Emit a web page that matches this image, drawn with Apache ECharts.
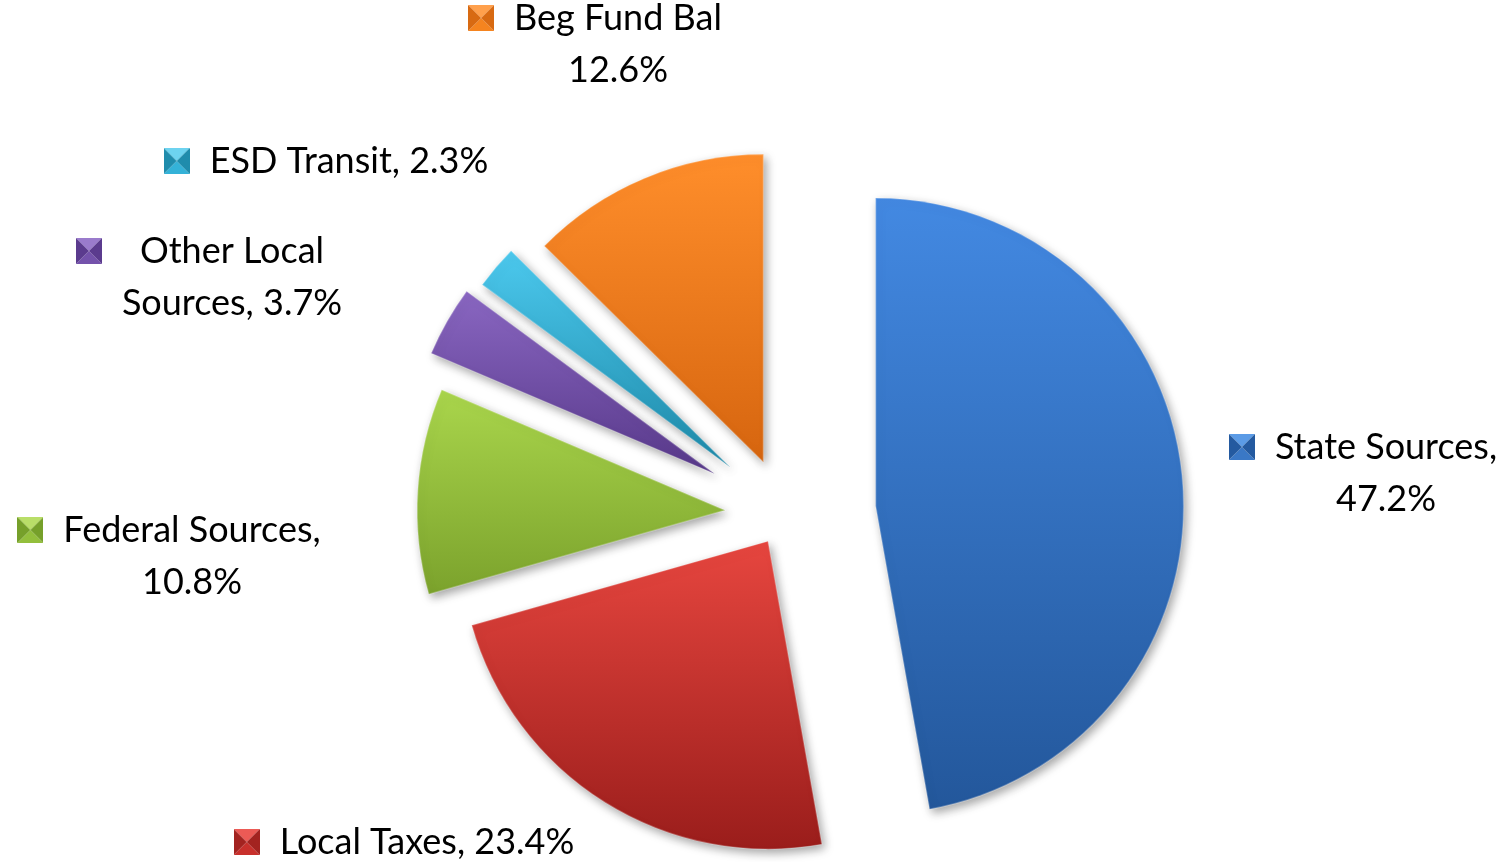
<!DOCTYPE html>
<html>
<head>
<meta charset="utf-8">
<script src="https://cdn.jsdelivr.net/npm/echarts@6/dist/echarts.min.js"></script>
<style>
  html, body { margin: 0; padding: 0; background: #ffffff; }
  #chart { width: 1509px; height: 862px; }
</style>
</head>
<body>
<div id="chart"></div>
<script>
// Revenue sources, share of total (%)
const categories = ['State Sources', 'Local Taxes', 'Federal Sources', 'Other Local Sources', 'ESD Transit', 'Beg Fund Bal'];
const shares = [47.2, 23.4, 10.8, 3.7, 2.3, 12.6];

// How each label's text is broken into lines
const labelNames = ['State Sources', 'Local Taxes', 'Federal Sources', 'Other Local\nSources', 'ESD Transit', 'Beg Fund Bal'];
const labelSeparators = [',\n', ', ', ',\n', ', ', ', ', '\n'];

// Slice gradients (top, bottom) and marker shades (light, mid, dark)
const sliceColors = [
  ['#4389e2', '#23579b'],
  ['#e7463f', '#9a1d1b'],
  ['#aad64c', '#7ba22c'],
  ['#8a67c2', '#573889'],
  ['#4cc9ee', '#1d89a8'],
  ['#ff8e2b', '#d6650f']
];
const markerShades = [
  ['#5b9be6', '#3a78c6', '#245aa0'],
  ['#ec5a55', '#c8302c', '#a32320'],
  ['#b9de68', '#93bf3c', '#76a02a'],
  ['#9a7bcc', '#7452ab', '#5b3b8e'],
  ['#6dd3f0', '#34b2d8', '#1f8cac'],
  ['#ffa04c', '#f5841f', '#d86a12']
];

// Geometry: shared pie centre, radius, how far each slice is pulled out, label anchors
const PIE_CENTER = [785, 514];
const RADIUS = 308;
const explode = [91, 32, 60, 81, 72, 56];
const labelAnchors = [[1363, 473], [404, 842], [169, 556], [209, 277], [326, 161], [595, 44]];

const FONT = 'Lato, "Open Sans", sans-serif';
const FONT_SIZE = 36;
const total = shares.reduce((a, b) => a + b, 0);

function pyramidMarker(shade) {
  const s = 26;
  const c = document.createElement('canvas');
  c.width = s; c.height = s;
  const g = c.getContext('2d');
  const tri = (pts, col) => {
    g.beginPath();
    g.moveTo(pts[0][0], pts[0][1]);
    g.lineTo(pts[1][0], pts[1][1]);
    g.lineTo(pts[2][0], pts[2][1]);
    g.closePath();
    g.fillStyle = col;
    g.fill();
  };
  const m = s / 2;
  tri([[0, 0], [s, 0], [m, m]], shade[0]);
  tri([[0, s], [s, s], [m, m]], shade[1]);
  tri([[0, 0], [0, s], [m, m]], shade[2]);
  tri([[s, 0], [s, s], [m, m]], shade[2]);
  return c;
}

function richLabel(i) {
  const text = labelNames[i] + labelSeparators[i] + shares[i].toFixed(1) + '%';
  return text.split('\n')
    .map((line, k) => (k === 0 ? '{m|}{g|}' : '{sp|}') + '{t|' + line + '}')
    .join('\n');
}

// Slice centres: each slice is pushed out along its own mid-angle
let acc = 0;
const centers = shares.map((v, i) => {
  const mid = (acc + v / 2) / total * 2 * Math.PI;
  acc += v;
  return [PIE_CENTER[0] + explode[i] * Math.sin(mid), PIE_CENTER[1] - explode[i] * Math.cos(mid)];
});

const series = categories.map((_, i) => ({
  type: 'pie',
  name: categories[i],
  center: centers[i],
  radius: [0, RADIUS],
  startAngle: 90,
  clockwise: true,
  avoidLabelOverlap: false,
  animation: false,
  silent: true,
  emphasis: { disabled: true },
  labelLine: { show: false },
  label: {
    show: true,
    position: 'outside',
    formatter: richLabel(i),
    fontFamily: FONT,
    fontSize: FONT_SIZE,
    color: '#000',
    rich: {
      m: { width: 26, height: 26, align: 'left', verticalAlign: 'middle', lineHeight: 52,
           backgroundColor: { image: pyramidMarker(markerShades[i]) } },
      g: { width: 20, align: 'left', lineHeight: 52 },
      sp: { width: 46, align: 'left', lineHeight: 52 },
      t: { fontFamily: FONT, fontSize: FONT_SIZE, color: '#000', lineHeight: 52 }
    }
  },
  labelLayout: () => ({ x: labelAnchors[i][0], y: labelAnchors[i][1], align: 'center', verticalAlign: 'middle' }),
  data: categories.map((name, j) => ({
    name,
    value: shares[j],
    label: { show: j === i },
    itemStyle: j === i ? {
      color: {
        type: 'linear', x: 0, y: 0, x2: 0, y2: 1,
        colorStops: [{ offset: 0, color: sliceColors[i][0] }, { offset: 1, color: sliceColors[i][1] }]
      },
      borderColor: 'rgba(255,255,255,0.25)',
      borderWidth: 1.5,
      shadowBlur: 10,
      shadowOffsetX: 3,
      shadowOffsetY: 4,
      shadowColor: 'rgba(0,0,0,0.35)'
    } : { color: 'rgba(0,0,0,0)', borderWidth: 0 }
  }))
}));

const chart = echarts.init(document.getElementById('chart'), null, { renderer: 'canvas' });
chart.setOption({
  backgroundColor: '#ffffff',
  tooltip: { show: false },
  series
});
</script>
</body>
</html>
